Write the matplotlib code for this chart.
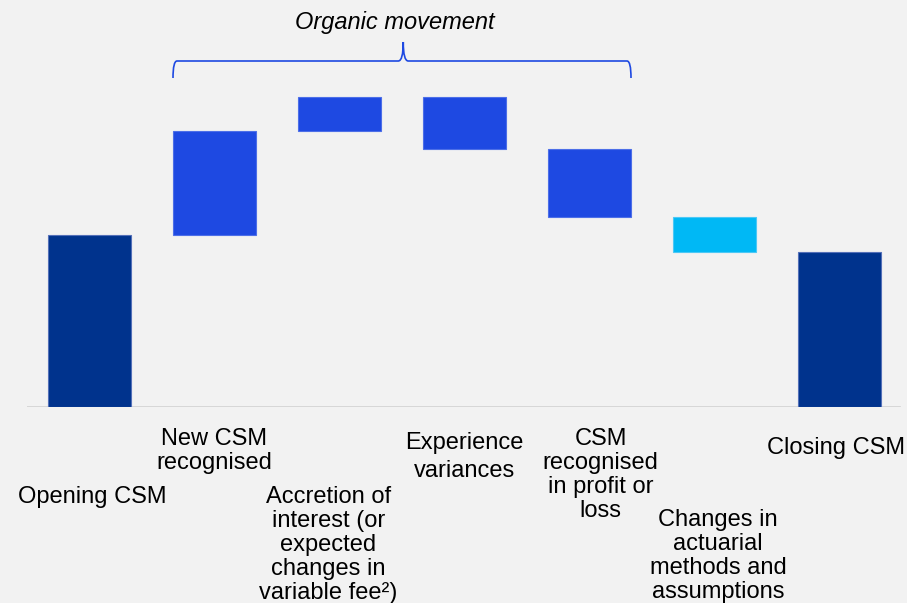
import matplotlib
matplotlib.use("Agg")
import matplotlib.pyplot as plt
from matplotlib.path import Path
from matplotlib.patches import PathPatch
import numpy as np

plt.rcParams['font.family'] = ['Liberation Sans', 'DejaVu Sans']

# ---- data (schematic units) ----
categories = ["Opening CSM", "New CSM\nrecognised",
              "Accretion of\ninterest (or\nexpected\nchanges in\nvariable fee\u00b2)",
              "Experience\nvariances", "CSM\nrecognised\nin profit or\nloss",
              "Changes in\nactuarial\nmethods and\nassumptions", "Closing CSM"]
opening = 172
movements = [104, 34, -52, -68, -35]
closing = opening + sum(movements)
bar_kinds = ["total", "organic", "organic", "organic", "organic", "other", "total"]
bracket_label = "Organic movement"

colors = {"total": "#00338D", "organic": "#1E49E2", "other": "#00B8F5"}
edge = {"total": "#5470b8", "organic": "#4d6fe8", "other": "#4cc8f5"}

# label placement (x offset in bar units, y centre in pixels from top)
label_dx = [0.02, 0.0, -0.09, 0.0, 0.09, 0.03, -0.03]
label_y_px = [497, 451, 545, 457, 475, 556, 448]
label_ls = [1.13, 1.13, 1.13, 1.32, 1.13, 1.13, 1.13]

W, H = 907, 603
fig = plt.figure(figsize=(W / 100, H / 100), dpi=100)
bg = "#F2F2F2"
fig.patch.set_facecolor(bg)
ax_top_px, ax_base_px = 0, 407
ax = fig.add_axes([27 / W, (H - ax_base_px) / H, 875 / W, (ax_base_px - ax_top_px) / H])
ax.set_facecolor(bg)
ax.set_xlim(-0.5, 6.5)
ax.set_ylim(0, ax_base_px - ax_top_px)
ax.axis("off")

# waterfall geometry
bottoms, heights = [0], [opening]
level = opening
for m in movements:
    bottoms.append(level if m >= 0 else level + m)
    heights.append(abs(m))
    level += m
bottoms.append(0)
heights.append(closing)

x = np.arange(len(categories))
bw = 0.664
for i in range(len(categories)):
    k = bar_kinds[i]
    ax.bar(x[i], heights[i], bottom=bottoms[i], width=bw, color=colors[k],
           edgecolor=edge[k], linewidth=0.8, zorder=3)

ax.axhline(0, xmin=0, xmax=0.997, color="#D4D4D4", linewidth=2, zorder=2)

top_y = ax_base_px - ax_top_px  # data y of pixel 0
def py(p):
    return top_y - p

for i, lab in enumerate(categories):
    ax.text(x[i] + label_dx[i], py(label_y_px[i]), lab, ha="center", va="center",
            multialignment="center", fontsize=17, linespacing=label_ls[i],
            color="#000000", clip_on=False)

# brace over organic movements
org = [i for i, k in enumerate(bar_kinds) if k == "organic"]
x0 = x[org[0]] - bw / 2
x1 = x[org[-1]] + bw / 2
xm = (x0 + x1) / 2 + 0.01
px = 1 / 125.0
yt, yl, yc = py(78), py(61), py(42)
verts = [(x0, yt), (x0, yl), (x0 + 4 * px, yl),
         (xm - 5 * px, yl), (xm, yl), (xm, yc),
         (xm, yl), (xm + 5 * px, yl),
         (x1 - 4 * px, yl), (x1, yl), (x1, yt)]
codes = [Path.MOVETO, Path.CURVE3, Path.CURVE3,
         Path.LINETO, Path.CURVE3, Path.CURVE3,
         Path.CURVE3, Path.CURVE3,
         Path.LINETO, Path.CURVE3, Path.CURVE3]
ax.add_patch(PathPatch(Path(verts, codes), facecolor="none", edgecolor="#1E49E2",
                       linewidth=1.2, clip_on=False, zorder=4))
ax.text(xm - 0.07, py(22), bracket_label, ha="center", va="center", fontsize=17,
        style="italic", color="#000000", clip_on=False)

fig.savefig("out.png", dpi=100, facecolor=bg)
